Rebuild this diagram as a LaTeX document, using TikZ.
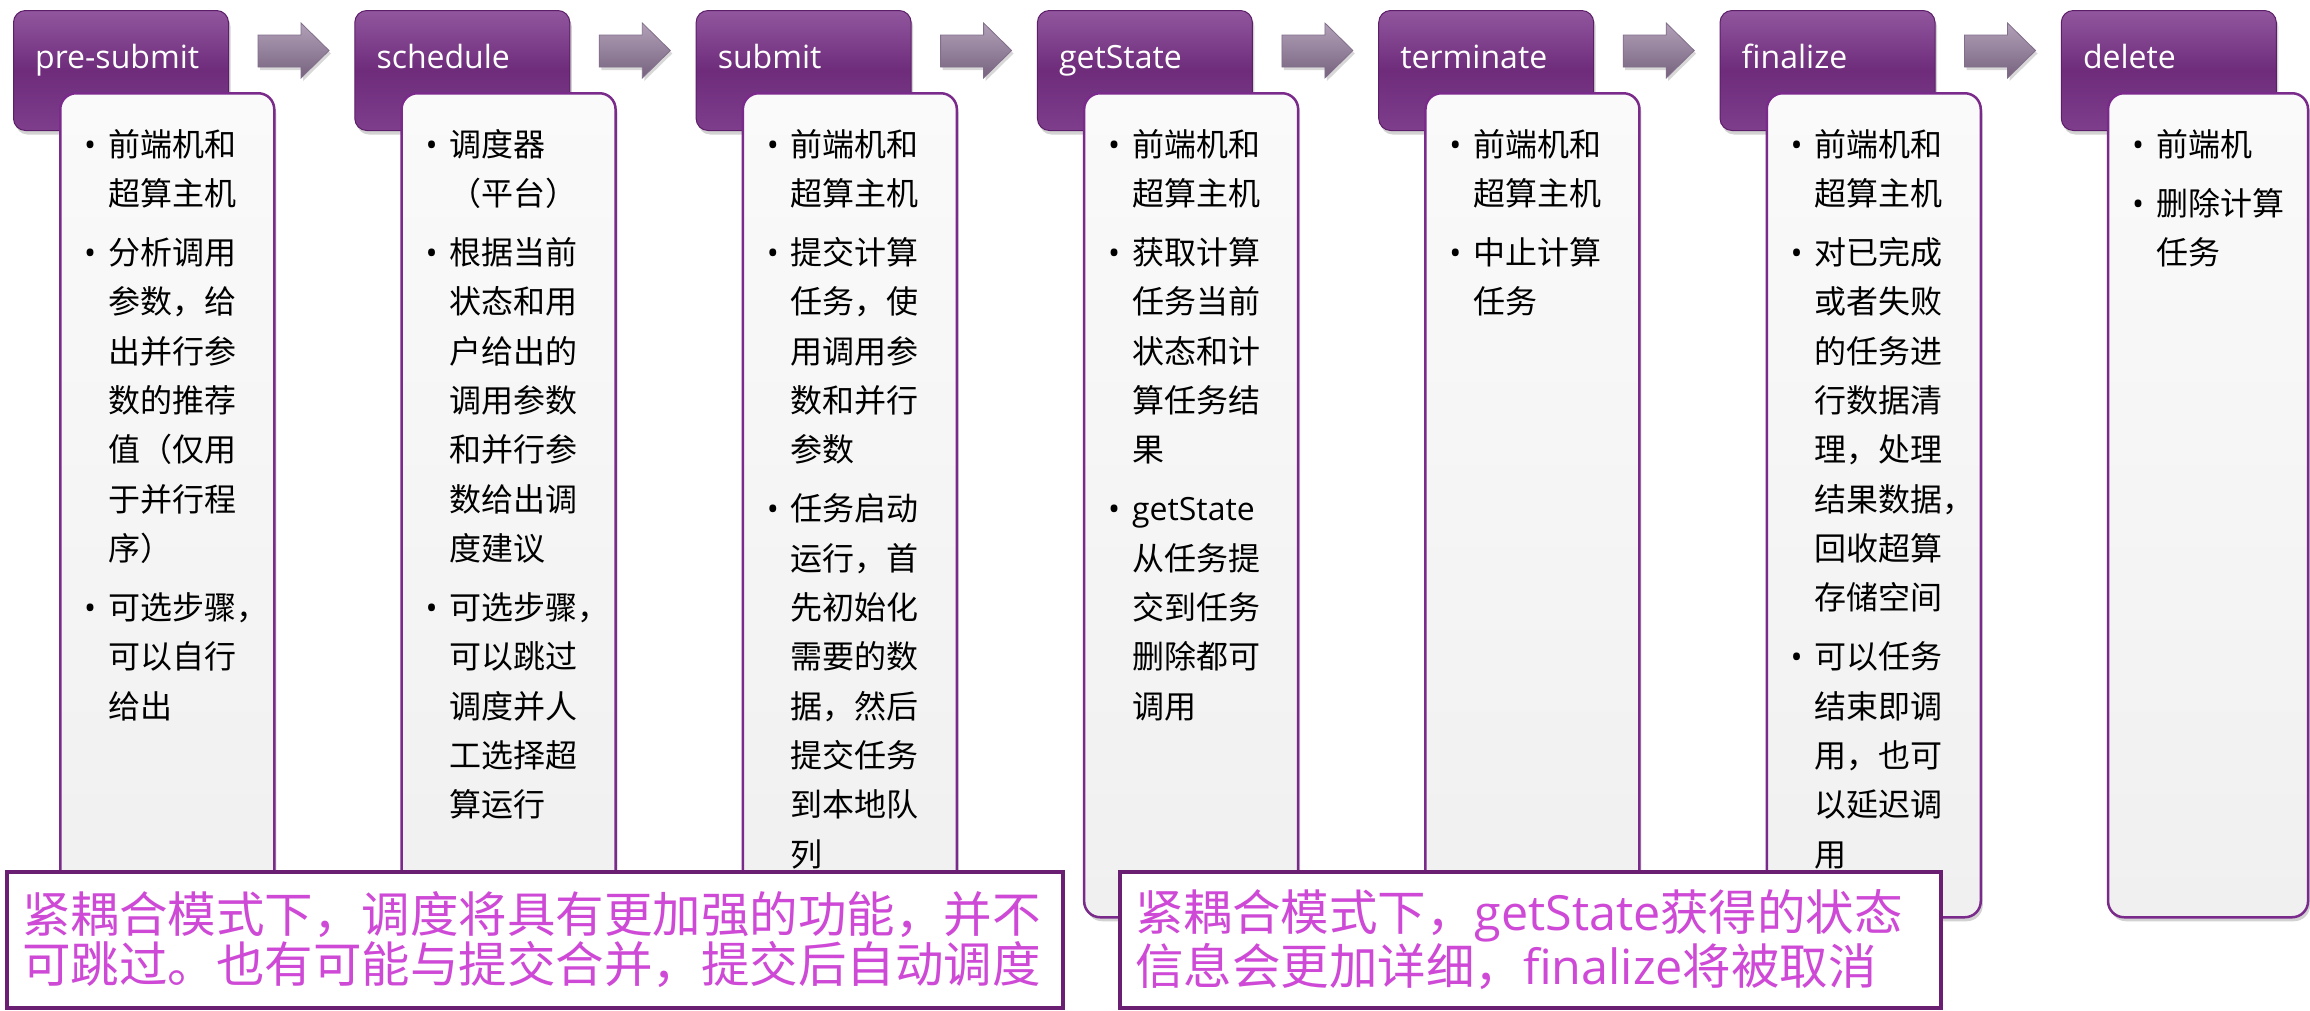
\documentclass[tikz,border=0pt]{standalone}
\usepackage{fontspec}
\setmainfont{Noto Sans CJK SC}
\newfontfamily\latin{Open Sans}
\usetikzlibrary{shadows}
\definecolor{hdrtop}{RGB}{145,86,158}
\definecolor{hdrmid}{RGB}{110,44,123}
\definecolor{hdrbot}{RGB}{126,62,140}
\definecolor{hdrline}{RGB}{92,30,104}
\definecolor{cline}{RGB}{122,42,138}
\definecolor{ctop}{RGB}{250,250,250}
\definecolor{cbot}{RGB}{240,240,240}
\definecolor{arrtop}{RGB}{178,160,184}
\definecolor{arrbot}{RGB}{118,98,126}
\definecolor{arrline}{RGB}{130,110,138}
\definecolor{notetxt}{RGB}{206,74,214}
\definecolor{noteline}{RGB}{107,31,114}
\newcommand\itm[1]{\par\noindent\hangindent=24pt\hangafter=1\makebox[24pt][l]{\latin •}#1\par}
\tikzset{
  hdr/.style={rounded corners=12pt, minimum width=215pt, minimum height=120pt, inner sep=0pt,
    top color=hdrtop, bottom color=hdrbot, middle color=hdrmid, draw=hdrline, line width=1pt,
    drop shadow={shadow xshift=2pt, shadow yshift=-4pt, opacity=0.35}},
  hdrtext/.style={anchor=base west, inner sep=0pt, text=white, font=\latin\fontsize{32}{38}\selectfont},
  cbox/.style={rounded corners=16pt, minimum height=824pt, inner sep=0pt,
    top color=ctop, bottom color=cbot, draw=cline, line width=2.5pt,
    drop shadow={shadow xshift=2pt, shadow yshift=-4pt, opacity=0.35}},
  ctext/.style={anchor=north west, inner sep=0pt, text width=200pt,
    font=\fontsize{32}{49.35}\selectfont\setlength{\parskip}{9.6pt}},
  blockarr/.style={top color=arrtop, bottom color=arrbot, draw=arrline, line width=0.8pt, line join=miter,
    drop shadow={shadow xshift=2pt, shadow yshift=-3pt, opacity=0.3}},
  note/.style={draw=noteline, line width=4pt, fill=white, text=notetxt, inner xsep=15pt, inner ysep=0pt,
    minimum height=136pt, font=\fontsize{48.5}{50}\selectfont}
}
\newcommand\stage[4]{%
  \pgfmathsetmacro\hx{13+341.3*(#1-1)}%
  \node[hdr, anchor=north west] (h#1) at (\hx,10) {};
  \node[hdrtext] (ht#1) at (\hx+22,68) {#2};
  \node[cbox, minimum width=#3pt, anchor=north west] (c#1) at (\hx+46,92) {};
  \node[ctext] (ct#1) at (\hx+71,97) {#4};
}
\begin{document}
\begin{tikzpicture}[x=1pt,y=-1pt]
\fill[white] (0,0) rectangle (2310,1010);
\useasboundingbox (0,0) rectangle (2310,1010);

\stage{1}{pre-submit}{214}{\itm{前端机和\newline 超算主机}\itm{分析调用\newline 参数，给\newline 出并行参\newline 数的推荐\newline 值（仅用\newline 于并行程\newline 序）}\itm{可选步骤，\newline 可以自行\newline 给出}}
\stage{2}{schedule}{214}{\itm{调度器\newline （平台）}\itm{根据当前\newline 状态和用\newline 户给出的\newline 调用参数\newline 和并行参\newline 数给出调\newline 度建议}\itm{可选步骤，\newline 可以跳过\newline 调度并人\newline 工选择超\newline 算运行}}
\stage{3}{submit}{214}{\itm{前端机和\newline 超算主机}\itm{提交计算\newline 任务，使\newline 用调用参\newline 数和并行\newline 参数}\itm{任务启动\newline 运行，首\newline 先初始化\newline 需要的数\newline 据，然后\newline 提交任务\newline 到本地队\newline 列}}
\stage{4}{getState}{214}{\itm{前端机和\newline 超算主机}\itm{获取计算\newline 任务当前\newline 状态和计\newline 算任务结\newline 果}\itm{{\latin getState}\newline 从任务提\newline 交到任务\newline 删除都可\newline 调用}}
\stage{5}{terminate}{214}{\itm{前端机和\newline 超算主机}\itm{中止计算\newline 任务}}
\stage{6}{finalize}{214}{\itm{前端机和\newline 超算主机}\itm{对已完成\newline 或者失败\newline 的任务进\newline 行数据清\newline 理，处理\newline 结果数据，\newline 回收超算\newline 存储空间}\itm{可以任务\newline 结束即调\newline 用，也可\newline 以延迟调\newline 用}}
\stage{7}{delete}{200}{\itm{前端机}\itm{删除计算\newline 任务}}

\foreach \i in {1,...,6}{
  \begin{scope}[shift={(h\i.north east)}]
    \path[blockarr] (29,25) -- (72,25) -- (72,13) -- (100,40.5) -- (72,68) -- (72,57) -- (29,57) -- cycle;
  \end{scope}
}

\node[note, text width=1026pt] (n1) at (535,940) {\noindent 紧耦合模式下，调度将具有更加强的功能，并不\newline 可跳过。也有可能与提交合并，提交后自动调度};
\node[note, text width=791pt] (n2) at (1530.5,940) {\noindent 紧耦合模式下，{\latin getState}获得的状态\newline 信息会更加详细，{\latin finalize}将被取消};
\end{tikzpicture}
\end{document}
